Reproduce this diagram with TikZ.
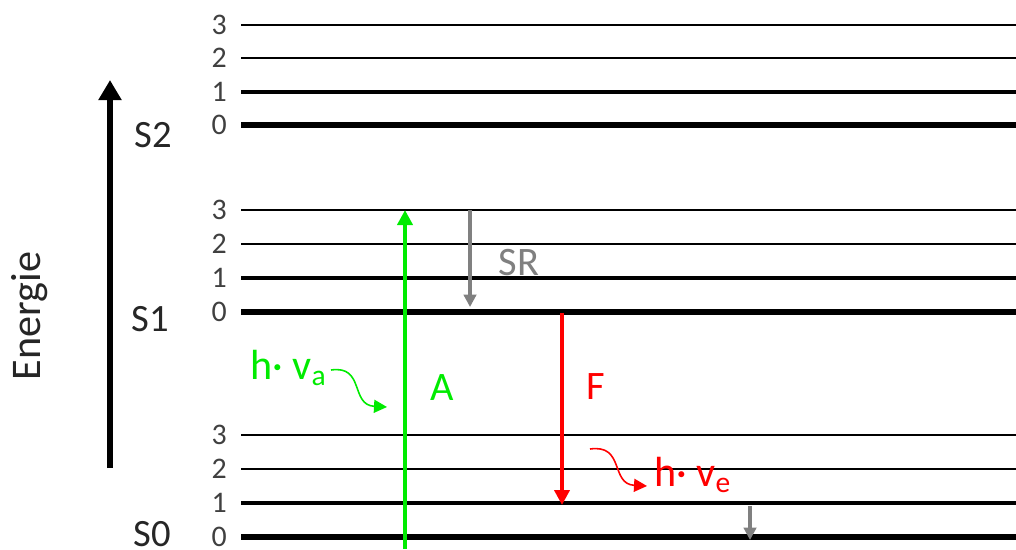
\documentclass[tikz,border=0pt]{standalone}
\usepackage{fontspec}
\setmainfont{Carlito}
\usetikzlibrary{arrows.meta}
\definecolor{absgreen}{RGB}{0,235,0}
\definecolor{fluored}{RGB}{255,0,0}
\definecolor{relaxgray}{RGB}{128,128,128}

\begin{document}
\begin{tikzpicture}[x=0.02cm,y=-0.02cm,
  lvlthree/.style={draw=black,line width=0.6pt},
  lvltwo/.style={draw=black,line width=1.4pt},
  lvlone/.style={draw=black,line width=2.1pt},
  lvlzero/.style={draw=black,line width=2.9pt},
  num/.style={font=\fontsize{17}{20}\selectfont,text=black!75,anchor=east,inner sep=0pt},
  state/.style={font=\fontsize{22}{26}\selectfont,text=black!85,inner sep=0pt},
  trans/.style={font=\fontsize{23}{27}\selectfont,inner sep=0pt},
  photon/.style={font=\fontsize{24}{28}\selectfont,inner sep=0pt,anchor=base west},
  wavy/.style={line width=0.9pt,-{Triangle[length=0.26cm,width=0.26cm]}}
]
\useasboundingbox (0,0) rectangle (1016,549);

% axis
\coordinate (eBot) at (110,468);
\coordinate (eTop) at (110,80);
\draw[line width=3pt,-{Triangle[length=0.4cm,width=0.44cm]}] (eBot) -- (eTop);
\node[rotate=90,font=\fontsize{24}{28}\selectfont,text=black!85] (energie) at (30,316) {Energie};

% S2
\draw[lvlthree] (241,25) -- (1016,25);
\draw[lvltwo] (241,58) -- (1016,58);
\draw[lvlone] (241,92) -- (1016,92);
\draw[lvlzero] (241,125) -- (1016,125);
\node[num] (s2n3) at (227,25) {3};
\node[num] (s2n2) at (227,58) {2};
\node[num] (s2n1) at (227,92) {1};
\node[num] (s2n0) at (227,125) {0};
\node[state] (s2) at (153,135) {S2};

% S1
\draw[lvlthree] (241,210) -- (1016,210);
\draw[lvltwo] (241,244) -- (1016,244);
\draw[lvlone] (241,278) -- (1016,278);
\draw[lvlzero] (241,312) -- (1016,312);
\node[num] (s1n3) at (227,210) {3};
\node[num] (s1n2) at (227,244) {2};
\node[num] (s1n1) at (227,278) {1};
\node[num] (s1n0) at (227,312) {0};
\node[state] (s1) at (150,319) {S1};

% S0
\draw[lvlthree] (241,435) -- (1016,435);
\draw[lvltwo] (241,469) -- (1016,469);
\draw[lvlone] (241,503) -- (1016,503);
\draw[lvlzero] (241,537) -- (1016,537);
\node[num] (s0n3) at (227,435) {3};
\node[num] (s0n2) at (227,469) {2};
\node[num] (s0n1) at (227,503) {1};
\node[num] (s0n0) at (227,537) {0};
\node[state] (s0) at (152,534) {S0};

% absorption
\coordinate (aBot) at (405,549);
\coordinate (aTop) at (405,210);
\draw[absgreen,line width=2.4pt,-{Triangle[length=0.3cm,width=0.3cm]}] (aBot) -- (aTop);
\node[trans,text=absgreen] (absA) at (442,388) {A};
\node[photon,text=absgreen] (hva) at (250,379) {h· v\textsubscript{a}};
\coordinate (waStart) at (331,370);
\coordinate (waEnd) at (387,407);
\draw[wavy,absgreen] (waStart) .. controls (365,365) and (350,405) .. (waEnd);

% relaxation
\coordinate (srTop) at (470,210);
\coordinate (srBot) at (470,307);
\draw[relaxgray,line width=1.8pt,-{Triangle[length=0.25cm,width=0.25cm]}] (srTop) -- (srBot);
\node[trans,text=relaxgray] (sr) at (519,263) {SR};
\coordinate (grTop) at (750,506);
\coordinate (grBot) at (750,540);
\draw[relaxgray,line width=1.8pt,-{Triangle[length=0.25cm,width=0.25cm]}] (grTop) -- (grBot);

% fluorescence
\coordinate (fTop) at (562,313);
\coordinate (fBot) at (562,505);
\draw[fluored,line width=2.4pt,-{Triangle[length=0.3cm,width=0.3cm]}] (fTop) -- (fBot);
\node[trans,text=fluored] (fluoF) at (596,387) {F};
\node[photon,text=fluored] (hve) at (654,486) {h· v\textsubscript{e}};
\coordinate (weStart) at (590,449);
\coordinate (weEnd) at (647,486);
\draw[wavy,fluored] (weStart) .. controls (625,444) and (610,484) .. (weEnd);

\end{tikzpicture}
\end{document}
